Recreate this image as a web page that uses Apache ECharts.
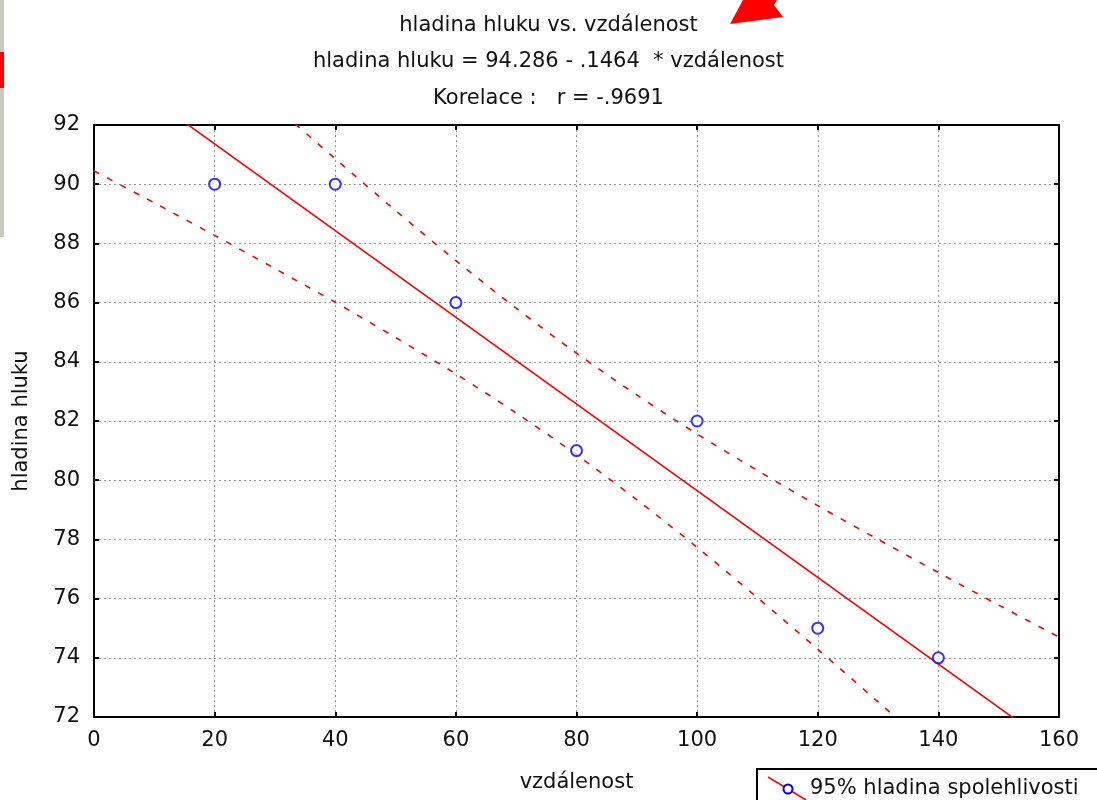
<!DOCTYPE html>
<html>
<head>
<meta charset="utf-8">
<title>hladina hluku vs. vzdálenost</title>
<script src="https://cdn.jsdelivr.net/npm/echarts@6/dist/echarts.min.js"></script>
<style>
  html, body { margin: 0; padding: 0; background: #fff; }
  #chart { width: 1097px; height: 800px; }
</style>
</head>
<body>
<div id="chart"></div>
<script>
// measured points
const distance = [20, 40, 60, 80, 100, 120, 140];
const noise = [90, 90, 86, 81, 82, 75, 74];

// regression line read at both ends of the x axis
const fitX = [0, 160];
const fitY = [94.29, 70.86];

// 95% band, every 10 units
const bandX = [0, 10, 20, 30, 40, 50, 60, 70, 80, 90, 100, 110, 120, 130, 140, 150, 160];
const bandUpper = [98.12, 96.28, 94.45, 92.64, 90.86, 89.11, 87.42, 85.81, 84.29, 82.88, 81.56, 80.33, 79.14, 78.00, 76.88, 75.78, 74.70];
const bandLower = [90.45, 89.37, 88.27, 87.15, 86.01, 84.82, 83.59, 82.27, 80.86, 79.34, 77.73, 76.03, 74.29, 72.51, 70.70, 68.87, 67.03];

const titleLines = [
  'hladina hluku vs. vzdálenost',
  'hladina hluku = 94.286 - .1464  * vzdálenost',
  'Korelace :   r = -.9691'
];

const font = 'DejaVu Sans';

const pairs = (xs, ys) => xs.map((x, i) => [x, ys[i]]);

const chart = echarts.init(document.getElementById('chart'), null, { renderer: 'canvas' });

const gridLine = { show: true, lineStyle: { color: '#9a9a9a', type: [2, 3], width: 1 } };
const frame = { show: true, onZero: false, lineStyle: { color: '#000', width: 2 } };
const innerTick = { show: true, inside: true, length: 5, lineStyle: { color: '#000', width: 2 } };

const option = {
  animation: false,
  backgroundColor: '#fff',
  title: titleLines.map((t, i) => ({
    text: t,
    left: 'center',
    top: 10 + i * 36.5,
    textStyle: { fontFamily: font, fontSize: 21, fontWeight: 'normal', color: '#111' }
  })),
  grid: { left: 94, right: 38, top: 125, bottom: 83, containLabel: false },
  xAxis: [{
    type: 'value', min: 0, max: 160, interval: 20,
    name: 'vzdálenost', nameLocation: 'middle', nameGap: 55,
    nameTextStyle: { fontFamily: font, fontSize: 21, color: '#111' },
    axisLine: frame, axisTick: innerTick, splitLine: gridLine,
    axisLabel: { fontFamily: font, fontSize: 21, color: '#111', margin: 13 }
  }, {
    type: 'value', position: 'top', min: 0, max: 160, interval: 20,
    axisLine: frame, axisTick: innerTick, splitLine: { show: false }, axisLabel: { show: false }
  }],
  yAxis: [{
    type: 'value', min: 72, max: 92, interval: 2,
    name: 'hladina hluku', nameLocation: 'middle', nameGap: 62,
    nameTextStyle: { fontFamily: font, fontSize: 21, color: '#111' },
    axisLine: frame, axisTick: innerTick, splitLine: gridLine,
    axisLabel: { fontFamily: font, fontSize: 21, color: '#111', margin: 14 }
  }, {
    type: 'value', position: 'right', min: 72, max: 92, interval: 2,
    axisLine: frame, axisTick: innerTick, splitLine: { show: false }, axisLabel: { show: false }
  }],
  series: [
    {
      name: 'fit', type: 'line', data: pairs(fitX, fitY),
      symbol: 'none', clip: true,
      lineStyle: { color: '#ff0000', width: 1.6 }
    },
    {
      name: 'upper', type: 'line', data: pairs(bandX, bandUpper),
      symbol: 'none', smooth: 0.3, clip: true,
      lineStyle: { color: '#ff0000', width: 1.6, type: [6, 9] }
    },
    {
      name: 'lower', type: 'line', data: pairs(bandX, bandLower),
      symbol: 'none', smooth: 0.3, clip: true,
      lineStyle: { color: '#ff0000', width: 1.6, type: [6, 9] }
    },
    {
      name: 'data', type: 'scatter', data: pairs(distance, noise),
      symbol: 'circle', symbolSize: 11, z: 5,
      itemStyle: { color: '#fff', borderColor: '#0000ff', borderWidth: 2 }
    }
  ],
  graphic: [
    // legend box in the lower right corner
    { type: 'rect', shape: { x: 757, y: 769, width: 360, height: 50 },
      style: { fill: '#fff', stroke: '#000', lineWidth: 2 } },
    { type: 'line', shape: { x1: 768, y1: 777, x2: 806, y2: 800 },
      style: { stroke: '#ff0000', lineWidth: 1.5 } },
    { type: 'circle', shape: { cx: 788, cy: 789, r: 4.5 },
      style: { fill: '#fff', stroke: '#0000ff', lineWidth: 2 } },
    { type: 'text', x: 810, y: 778,
      style: { text: '95% hladina spolehlivosti', font: '21px "DejaVu Sans"', fill: '#111' } },
    // red arrow fragment at the top
    { type: 'polygon', shape: { points: [[730, 24], [743, 0], [777, 0], [774, 5], [783, 17]] },
      style: { fill: '#ff0000' } },
    // strip at the left edge
    { type: 'rect', shape: { x: 0, y: 0, width: 4, height: 237 }, style: { fill: '#c9c9c0' } },
    { type: 'rect', shape: { x: 0, y: 52, width: 4, height: 36 }, style: { fill: '#ff0000' } }
  ]
};

chart.setOption(option);
</script>
</body>
</html>
